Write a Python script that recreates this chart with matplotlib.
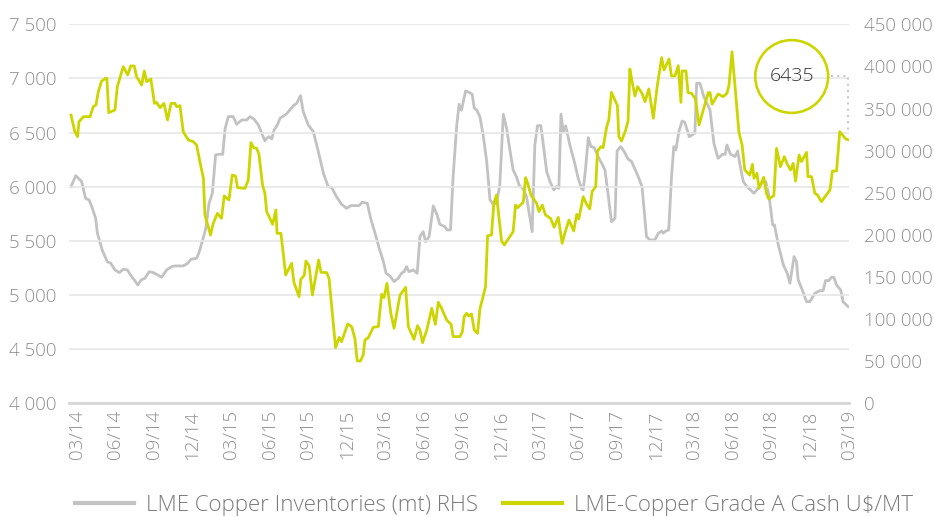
import matplotlib
matplotlib.use("Agg")
import matplotlib.pyplot as plt
from matplotlib.ticker import FuncFormatter

plt.rcParams['font.family'] = ['Open Sans', 'DejaVu Sans']

# ---- data (x in weeks since mid-March 2014) ----
price_wk = [0.0, 1.3, 2.2, 2.7, 4.2, 6.4, 7.5, 8.4, 9.2, 10.3, 11.7, 12.1, 12.7, 14.8, 15.6, 17.6,
            19.1, 20.1, 21.3, 22.1, 23.8, 24.7, 25.5, 26.9, 28.1, 28.8, 30.0, 31.3, 32.5, 33.7, 35.0,
            35.6, 36.7, 37.8, 39.5, 41.2, 42.3, 43.4, 44.6, 45.1, 47.0, 47.9, 49.3, 50.7, 51.6, 53.2,
            54.3, 55.4, 56.1, 58.6, 59.7, 60.6, 61.5, 62.5, 63.3, 64.5, 65.3, 65.9, 67.9, 69.0, 69.4,
            70.7, 72.3, 74.3, 75.1, 76.8, 77.4, 78.6, 79.1, 80.2, 81.3, 83.4, 84.2, 86.1, 86.9, 89.1,
            90.3, 91.1, 93.2, 94.5, 95.6, 96.4, 97.5, 98.4, 99.0, 100.1, 101.8, 103.5, 104.6, 105.4,
            106.4, 107.7, 108.8, 110.8, 112.7, 113.6, 115.5, 116.7, 117.5, 118.4, 119.8, 121.5, 122.7,
            123.7, 124.8, 126.5, 128.0, 128.7, 131.0, 131.8, 132.4, 133.2, 134.0, 134.9, 135.8, 136.9,
            137.7, 139.6, 140.3, 141.6, 142.4, 143.3, 145.0, 145.9, 148.9, 149.7, 150.4, 152.3, 153.1,
            153.8, 154.9, 156.8, 157.6, 158.7, 159.8, 161.5, 162.7, 164.1, 165.4, 166.3, 167.7, 169.3,
            170.3, 171.0, 172.5, 173.6, 174.7, 175.5, 176.7, 177.3, 178.5, 179.2, 180.4, 181.1, 182.0,
            184.0, 184.5, 185.4, 186.7, 187.6, 188.2, 188.8, 189.9, 190.8, 192.3, 193.3, 194.6, 196.1,
            197.4, 198.9, 199.7, 201.4, 202.2, 203.4, 204.5, 205.4, 205.8, 207.1, 207.8, 209.0, 210.3,
            211.5, 213.1, 214.6, 215.2, 215.9, 217.9, 219.6, 220.9, 221.6, 222.6, 223.8, 224.9, 226.0,
            226.9, 228.6, 229.5, 230.0, 231.0, 231.7, 233.3, 234.2, 235.0, 236.7, 237.6, 238.9, 240.2,
            241.2, 242.3, 243.2, 244.0, 245.2, 246.0, 247.7, 248.2, 249.4, 250.5, 251.4, 252.7, 255.6,
            256.4, 257.8, 258.9, 260.9, 261.7]
price = [6662, 6508, 6462, 6601, 6647, 6647, 6740, 6755, 6878, 6976, 7001, 7001, 6684, 6709, 6924, 7109,
         7032, 7115, 7115, 7016, 6939, 7069, 6970, 6995, 6770, 6779, 6730, 6770, 6616, 6770, 6770,
         6739, 6749, 6508, 6432, 6416, 6385, 6231, 6078, 5739, 5554, 5662, 5754, 5708, 5915, 5878,
         6108, 6099, 5991, 5985, 6062, 6407, 6361, 6355, 6300, 6016, 5939, 5770, 5653, 5785, 5570,
         5570, 5185, 5293, 5114, 4985, 5145, 5185, 5314, 5271, 5000, 5323, 5210, 5207, 5154, 4514,
         4609, 4569, 4733, 4708, 4600, 4391, 4391, 4446, 4585, 4606, 4702, 4708, 5006, 4976,
         5108, 4831, 4693, 5000, 5071, 4708, 4591, 4717, 4677, 4560, 4677, 4877, 4729,
         4933, 4877, 4770, 4729, 4616, 4616, 4662, 4800, 4831, 4806, 4825, 4677, 4646,
         4868, 5077, 5548, 5554, 5847, 5924, 5499, 5462, 5585, 5831, 5807, 5856, 6084,
         6031, 5924, 5847, 5770, 5831, 5739, 5708, 5625, 5717, 5477, 5570, 5693, 5591,
         5745, 5702, 5908, 5841, 5795, 5955, 6001, 6330, 6370, 6361, 6555, 6616, 6872,
         6749, 6462, 6422, 6515, 6607, 7087, 6995, 6838, 6924, 6862, 6786, 6903, 6632,
         6924, 7192, 7078, 7179, 7023, 7023, 7118, 6779, 7069, 7069, 6869, 6862, 6810,
         6570, 6724, 6869, 6869, 6761, 6856, 6832, 6862, 6939, 7247, 6872, 6509, 6385,
         6155, 6108, 6207, 6078, 6124, 5985, 6087, 5939, 5887, 5918, 6355, 6185, 6278,
         6210, 6155, 6216, 6053, 6293, 6232, 6318, 6093, 6093, 5939, 5924, 5862, 5970,
         6145, 6145, 6509, 6441, 6435]

inv_wk = [0.0, 1.6, 3.6, 4.9, 6.1, 7.2, 8.3, 8.9, 10.5, 12.2, 13.4, 14.8, 16.3, 17.6, 19.0, 20.4,
          21.5, 22.5, 23.6, 24.9, 26.3, 27.7, 29.2, 30.5, 32.2, 33.9, 35.0, 37.8, 39.3, 40.4, 42.3,
          43.1, 44.2, 45.4, 46.5, 47.6, 48.7, 49.8, 51.1, 51.9, 53.0, 54.6, 55.8, 57.5, 59.2, 60.3,
          61.7, 63.1, 65.3, 65.9, 66.7, 67.6, 68.4, 69.5, 70.4, 72.6, 73.7, 74.9, 76.0, 77.3, 78.2,
          79.9, 81.6, 83.3, 85.0, 86.6, 87.8, 89.4, 91.1, 92.8, 94.2, 97.0, 98.1, 99.8, 100.9, 102.4,
          103.8, 105.2, 106.1, 107.4, 108.8, 110.2, 111.3, 112.2, 113.0, 113.8, 115.3, 116.6, 117.5,
          118.6, 119.4, 120.6, 122.0, 123.3, 124.2, 125.9, 126.7, 127.8, 128.7, 129.9, 130.7, 131.5,
          132.9, 134.0, 135.1, 135.8, 136.6, 137.7, 138.8, 140.0, 141.1, 142.2, 143.3, 144.4, 145.6,
          146.7, 147.8, 148.9, 150.0, 150.9, 152.3, 153.4, 155.3, 156.2, 157.1, 158.2, 159.0, 160.2,
          161.3, 162.6, 163.5, 164.3, 165.0, 165.8, 166.6, 168.0, 169.5, 170.8, 172.0, 172.5, 173.3,
          174.2, 175.1, 176.2, 177.5, 178.7, 179.8, 180.9, 182.0, 183.2, 183.9, 185.1, 186.3, 187.6,
          188.8, 190.8, 192.3, 193.8, 195.0, 196.6, 197.8, 198.9, 199.4, 200.3, 201.3, 202.2, 203.0,
          203.7, 204.7, 205.8, 206.7, 208.2, 210.1, 210.7, 211.8, 213.1, 215.2, 216.5, 217.9, 219.4,
          220.3, 220.9, 222.1, 223.6, 224.5, 225.3, 226.4, 227.6, 228.6, 230.0, 231.4, 232.9, 234.0,
          235.1, 236.3, 236.9, 238.2, 239.9, 241.2, 242.1, 243.5, 244.3, 244.9, 246.4, 247.7, 248.8,
          250.5, 252.2, 253.3, 254.1, 255.2, 256.1, 256.9, 257.8, 259.2, 260.0, 261.7]
inv = [257300, 270300, 263200, 243400, 241400, 231500, 219700, 201900, 182100, 168200, 166200, 158300,
       155200, 159100, 158300, 150400, 145700, 140500, 146400, 148400, 156300, 155200, 152400, 149600,
       158300, 162300, 163100, 163100, 166200, 171000, 172200, 178900, 192000, 207800, 237500, 249400,
       294900, 295700, 295700, 326500, 340400, 340400, 331300, 336400, 336400, 340400, 337200, 330500,
       311500, 314700, 316600, 313900, 324600, 330500, 338400, 343600, 348300, 353400, 356200, 365300,
       346300, 330500, 322600, 298800, 273100, 257300, 256100, 245400, 236300, 231500, 234700, 234700,
       238700, 237500, 219700, 201900, 184000, 168200, 154400, 151200, 144500, 148400, 154400, 156300,
       162300, 156300, 158300, 154400, 197900, 203800, 192000, 197900, 234300, 223600, 212500, 209800,
       205800, 205800, 270000, 330000, 355000, 348000, 370900, 369300, 366900, 350300, 348300, 340400,
       318600, 287000, 241400, 236300, 237500, 259200, 343200, 326500, 300800, 277100, 269100, 259200,
       254500, 245400, 203800, 306700, 329700, 329700, 308700, 275100, 263200, 253300, 257300, 255300,
       343200, 322600, 329300, 306700, 287000, 267200, 254500, 253300, 279000, 315500, 304800, 303600,
       292900, 285000, 277100, 247400, 215700, 219700, 299600, 304800, 298800, 290100, 287000, 271100,
       257300, 197900, 193900, 193900, 201900, 204600, 201900, 204600, 205800, 267200, 304800, 300800,
       322600, 335200, 333700, 316600, 320600, 380000, 380000, 364100, 348300, 308700, 290900, 295700,
       295700, 306700, 295700, 292900, 299600, 283000, 263200, 257300, 254100, 249400, 255300, 262400,
       263200, 245400, 211700, 211700, 188000, 164300, 154400, 142500, 174200, 168200, 146400, 133400,
       120700, 120700, 130600, 133800, 133800, 145700, 145700, 149600, 149600, 140500, 134600, 120700,
       114800]

tick_labels = ["03/14", "06/14", "09/14", "12/14", "03/15", "06/15", "09/15", "12/15",
               "03/16", "06/16", "09/16", "12/16", "03/17", "06/17", "09/17", "12/17",
               "03/18", "06/18", "09/18", "12/18", "03/19"]
first_tick_wk = 1.9
weeks_per_quarter = 13.0

inv_label = "LME Copper Inventories (mt) RHS"
price_label = "LME-Copper Grade A Cash U$/MT"

GOLD = '#CDD500'
GREY = '#C2C2C2'
TICKC = '#8E8E8E'

fig = plt.figure(figsize=(9.34, 5.17), dpi=100)
ax = fig.add_axes([69 / 934, 1 - 403.3 / 517, 780 / 934, 379 / 517])
ax2 = ax.twinx()
ax.set_zorder(ax2.get_zorder() + 1)
ax.patch.set_visible(False)

l_inv, = ax2.plot(inv_wk, inv, color=GREY, lw=2.0, solid_joinstyle='round')
l_price, = ax.plot(price_wk, price, color=GOLD, lw=2.0, solid_joinstyle='round')

ax.set_xlim(-0.67, 262.0)
ax.set_ylim(4000, 7500)
ax2.set_ylim(0, 450000)
ax.set_yticks(range(4000, 7501, 500))
ax2.set_yticks(range(0, 450001, 50000))
fmt = FuncFormatter(lambda v, p: f"{v:,.0f}".replace(",", " "))
ax.yaxis.set_major_formatter(fmt)
ax2.yaxis.set_major_formatter(fmt)

ticks = [first_tick_wk + weeks_per_quarter * i for i in range(len(tick_labels))]
ax.set_xticks(ticks)
ax.set_xticklabels(tick_labels, rotation=90)

ax.yaxis.grid(True, color='#E6E6E6', lw=1.2)
ax.set_axisbelow(True)
for s in ['top', 'left', 'right']:
    ax.spines[s].set_visible(False)
for s in ax2.spines.values():
    s.set_visible(False)
ax.spines['bottom'].set_color('#D6D6D6')
ax.spines['bottom'].set_linewidth(2.0)

ax.tick_params(axis='y', length=0, labelsize=13.5, labelcolor=TICKC, pad=9)
ax.tick_params(axis='x', length=0, labelsize=13.5, labelcolor=TICKC, pad=5)
ax2.tick_params(axis='y', length=0, labelsize=13.5, labelcolor=TICKC, pad=11)
for t in ax.get_xticklabels() + ax.get_yticklabels() + ax2.get_yticklabels():
    t.set_fontweight('light')

# annotation circle with last value
cx, cy = 242.7, 7018
ax.scatter([cx], [cy], s=2750, facecolors='none', edgecolors=GOLD, linewidths=1.9,
           zorder=6, clip_on=False)
ax.text(cx, cy, f"{price[-1]:.0f}", ha='center', va='center', fontsize=14, color='#333333',
        fontweight='light', zorder=7)
ax.plot([255.9, price_wk[-1], price_wk[-1]], [cy, cy, price[-1] + 60], ls=(0, (1, 2.2)),
        color='#C4C4C4', lw=1.4, clip_on=False, zorder=5)

leg = fig.legend([l_inv, l_price], [inv_label, price_label], loc='center',
                 bbox_to_anchor=(0.529, 0.023), ncol=2, frameon=False, fontsize=16,
                 handlelength=2.65, handletextpad=0.55, columnspacing=1.1)
for t in leg.get_texts():
    t.set_color('#7A7A7A')
    t.set_fontweight('light')
for h in leg.legend_handles:
    h.set_linewidth(3)

fig.savefig('out.png', dpi=100)
